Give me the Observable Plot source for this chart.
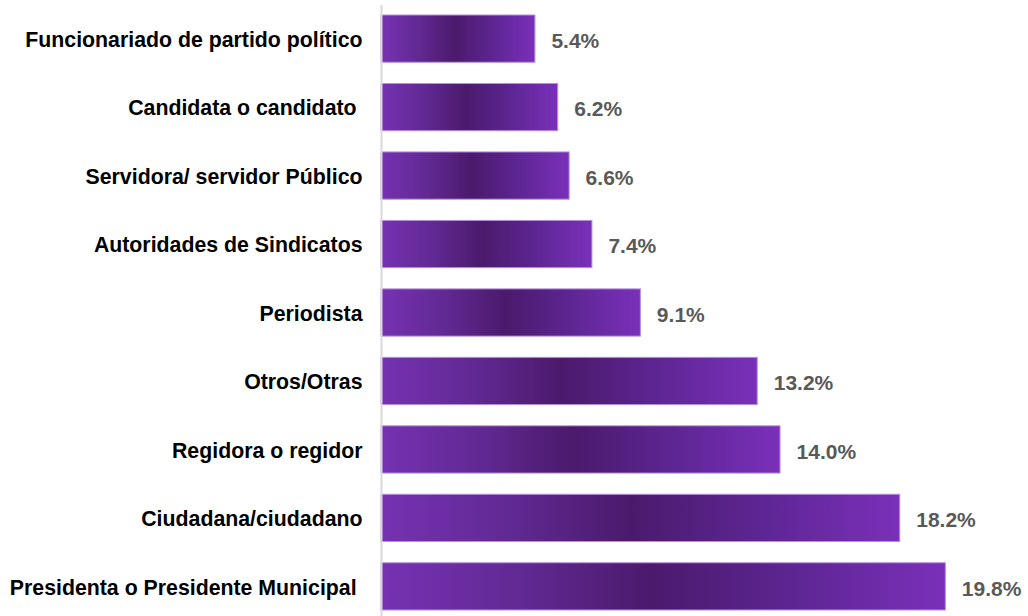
<!DOCTYPE html>
<html>
<head>
<meta charset="utf-8">
<script src="https://cdn.jsdelivr.net/npm/d3@7"></script>
<script src="https://cdn.jsdelivr.net/npm/@observablehq/plot@0.6"></script>
<style>
html, body { margin: 0; padding: 0; background: #fff; }
#chart svg text { white-space: pre; }
</style>
</head>
<body>
<div id="chart"></div>
<script>
const categories = [
  "Funcionariado de partido político",
  "Candidata o candidato ",
  "Servidora/ servidor Público",
  "Autoridades de Sindicatos",
  "Periodista",
  "Otros/Otras",
  "Regidora o regidor",
  "Ciudadana/ciudadano",
  "Presidenta o Presidente Municipal "
];
const values = [5.4, 6.2, 6.6, 7.4, 9.1, 13.2, 14.0, 18.2, 19.8];
const valueLabels = ["5.4%", "6.2%", "6.6%", "7.4%", "9.1%", "13.2%", "14.0%", "18.2%", "19.8%"];

const data = categories.map((c, i) => ({category: c, value: values[i], label: valueLabels[i]}));

const font = "'Liberation Sans', Arial, sans-serif";

const plot = Plot.plot({
  width: 1028,
  height: 616,
  marginLeft: 381,
  marginRight: 0,
  marginTop: 15,
  marginBottom: 6,
  style: {fontFamily: font, background: "#fff"},
  x: {domain: [0, 22.7], axis: null},
  y: {domain: categories, padding: 0.31, paddingOuter: 0, round: false, axis: null},
  marks: [
    Plot.barX(data, {
      y: "category", x: "value",
      fill: "url(#barGrad)",
      stroke: "#b490dc", strokeWidth: 1
    }),
    Plot.ruleX([0], {stroke: "#d9d9d9", strokeWidth: 2}),
    Plot.text(data, {
      y: "category", x: 0, text: "category",
      textAnchor: "end", dx: -19, dy: 1,
      fontSize: 21.3, fontWeight: "bold", fill: "#000"
    }),
    Plot.text(data, {
      y: "category", x: "value", text: "label",
      textAnchor: "start", dx: 16, dy: 2,
      fontSize: 21, fontWeight: "bold", fill: "#595959"
    })
  ]
});

const svg = d3.select(plot);
const defs = svg.insert("defs", ":first-child");
const g = defs.append("linearGradient")
  .attr("id", "barGrad")
  .attr("x1", "0").attr("x2", "1").attr("y1", "0").attr("y2", "0");
g.append("stop").attr("offset", "0").attr("stop-color", "#7632b2");
g.append("stop").attr("offset", "0.25").attr("stop-color", "#612993");
g.append("stop").attr("offset", "0.48").attr("stop-color", "#4b1a6c");
g.append("stop").attr("offset", "0.72").attr("stop-color", "#5c2591");
g.append("stop").attr("offset", "1").attr("stop-color", "#7a30ba");

// vertical axis line spanning full height
svg.selectAll("g[aria-label='rule'] line").attr("y1", 5).attr("y2", 616);

document.getElementById("chart").appendChild(plot);
</script>
</body>
</html>
